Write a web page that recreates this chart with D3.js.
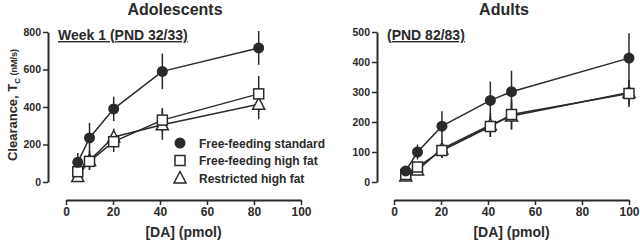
<!DOCTYPE html>
<html>
<head>
<meta charset="utf-8">
<script src="https://cdn.jsdelivr.net/npm/d3@7"></script>
<style>
  body { margin: 0; background: #fff; }
  text { font-family: "Liberation Sans", Arial, sans-serif; font-weight: bold; fill: #2a2a2a; }
</style>
</head>
<body>
<div id="chart-area"></div>
<script>
const SERIES_NAMES = ["Free-feeding standard", "Free-feeding high fat", "Restricted high fat"]
const SHAPES = ["circle", "square", "triangle"]

// adolescents
const ADO_DOSE = [5, 10, 20.3, 41, 82]
const ADO_STD = [105, 235, 390, 590, 715]
const ADO_STD_ERR = [50, 80, 65, 95, 90]
const ADO_HF = [55, 110, 215, 330, 470]
const ADO_HF_ERR = [30, 45, 55, 65, 95]
const ADO_RHF = [30, 115, 240, 305, 415]
const ADO_RHF_ERR = [25, 50, 45, 80, 80]

// adults
const ADU_DOSE = [5, 10, 20.4, 41, 50, 100]
const ADU_STD = [37, 100, 186, 272, 301, 413]
const ADU_STD_ERR = [15, 25, 50, 63, 70, 83]
const ADU_HF = [25, 50, 105, 185, 225, 295]
const ADU_HF_ERR = [10, 15, 25, 35, 50, 45]
const ADU_RHF = [20, 40, 110, 190, 220, 298]
const ADU_RHF_ERR = [10, 15, 30, 40, 45, 40]

const X_TICKS = [0, 20, 40, 60, 80, 100]
const ADO_Y_TICKS = [0, 200, 400, 600, 800]
const ADU_Y_TICKS = [0, 100, 200, 300, 400, 500]

const INK = "#2a2a2a"

const svg = d3.select("#chart-area").append("svg")
  .attr("width", 640)
  .attr("height", 240)

function panel(opts) {
  const g = svg.append("g")

  const x = d3.scaleLinear().domain([0, 100]).range([opts.x0, opts.x1])
  const y = d3.scaleLinear().domain([0, opts.yMax]).range([182, 32])

  const yAxis = g.append("g")
    .attr("transform", `translate(${opts.yAxisX},0)`)
    .call(d3.axisLeft(y).tickValues(opts.yTicks).tickSize(5).tickSizeOuter(0).tickPadding(2))
  const xAxis = g.append("g")
    .attr("transform", "translate(0,200)")
    .call(d3.axisBottom(x).tickValues(X_TICKS).tickSize(5).tickSizeOuter(0).tickPadding(2))

  ;[[yAxis, "10.5px"], [xAxis, "12px"]].forEach(([a, fs]) => {
    a.select(".domain").attr("stroke", INK).attr("stroke-width", 2)
    a.selectAll(".tick line").attr("stroke", INK).attr("stroke-width", 1.5)
    a.selectAll(".tick text")
      .attr("font-size", fs)
      .attr("font-family", "Liberation Sans, Arial, sans-serif")
      .attr("font-weight", "bold")
      .attr("fill", INK)
  })

  g.append("text")
    .attr("x", (opts.x0 + opts.x1) / 2)
    .attr("y", 237)
    .attr("text-anchor", "middle")
    .attr("font-size", "14px")
    .text("[DA] (pmol)")

  g.append("text")
    .attr("x", opts.titleX)
    .attr("y", 15)
    .attr("text-anchor", "middle")
    .attr("font-size", "16px")
    .text(opts.title)

  g.append("text")
    .attr("x", opts.subX)
    .attr("y", 40)
    .attr("font-size", "14px")
    .attr("text-decoration", "underline")
    .text(opts.subtitle)

  const series = [
    { vals: opts.std, err: opts.stdErr, shape: "circle" },
    { vals: opts.hf, err: opts.hfErr, shape: "square" },
    { vals: opts.rhf, err: opts.rhfErr, shape: "triangle" }
  ]

  const line = d3.line()
    .x(d => x(d[0]))
    .y(d => y(d[1]))

  // error bars
  series.forEach(s => {
    g.selectAll(null).data(opts.dose.map((d, i) => [d, s.vals[i], s.err[i]]))
      .enter().append("line")
      .attr("x1", d => x(d[0])).attr("x2", d => x(d[0]))
      .attr("y1", d => y(d[1] + d[2])).attr("y2", d => y(Math.max(0, d[1] - d[2])))
      .attr("stroke", INK).attr("stroke-width", 1.5)
  })

  series.forEach(s => {
    g.append("path")
      .datum(opts.dose.map((d, i) => [d, s.vals[i]]))
      .attr("fill", "none")
      .attr("stroke", INK)
      .attr("stroke-width", 1.5)
      .attr("d", line)
  })

  // markers drawn last
  series.slice().reverse().forEach(s => {
    g.selectAll(null).data(opts.dose.map((d, i) => [d, s.vals[i]]))
      .enter().append("g")
      .attr("transform", d => `translate(${x(d[0])},${y(d[1])})`)
      .each(function () { drawMarker(d3.select(this), s.shape) })
  })
}

function drawMarker(sel, shape) {
  if (shape === "circle") {
    sel.append("circle").attr("r", 5.5).attr("fill", INK)
  } else if (shape === "square") {
    sel.append("rect").attr("x", -5).attr("y", -5).attr("width", 10).attr("height", 10)
      .attr("fill", "#fff").attr("stroke", INK).attr("stroke-width", 1.5)
  } else {
    sel.append("path").attr("d", "M0,-6.5L6,5L-6,5Z")
      .attr("fill", "#fff").attr("stroke", INK).attr("stroke-width", 1.5)
  }
}

panel({
  x0: 66, x1: 301, yAxisX: 48, yMax: 800, yTicks: ADO_Y_TICKS,
  title: "Adolescents", titleX: 175, subtitle: "Week 1 (PND 32/33)", subX: 58,
  dose: ADO_DOSE, std: ADO_STD, stdErr: ADO_STD_ERR, hf: ADO_HF, hfErr: ADO_HF_ERR, rhf: ADO_RHF, rhfErr: ADO_RHF_ERR
})

panel({
  x0: 394, x1: 629, yAxisX: 377, yMax: 500, yTicks: ADU_Y_TICKS,
  title: "Adults", titleX: 504, subtitle: "(PND 82/83)", subX: 387,
  dose: ADU_DOSE, std: ADU_STD, stdErr: ADU_STD_ERR, hf: ADU_HF, hfErr: ADU_HF_ERR, rhf: ADU_RHF, rhfErr: ADU_RHF_ERR
})

// y label
const yl = svg.append("text")
  .attr("transform", "translate(17,105) rotate(-90)")
  .attr("text-anchor", "middle")
  .attr("font-size", "13px")
yl.append("tspan").text("Clearance, T")
yl.append("tspan").attr("font-size", "8px").attr("dy", 3).text("C")
yl.append("tspan").attr("font-size", "9px").attr("dy", -3).text(" (nM/s)")

// legend
const legend = svg.append("g").attr("transform", "translate(180,143)")
SERIES_NAMES.forEach((name, i) => {
  const row = legend.append("g").attr("transform", `translate(0,${i * 17.5})`)
  drawMarker(row.append("g"), SHAPES[i])
  row.append("text")
    .attr("x", 19)
    .attr("y", 4.5)
    .attr("font-size", "12px")
    .text(name)
})
</script>
</body>
</html>
